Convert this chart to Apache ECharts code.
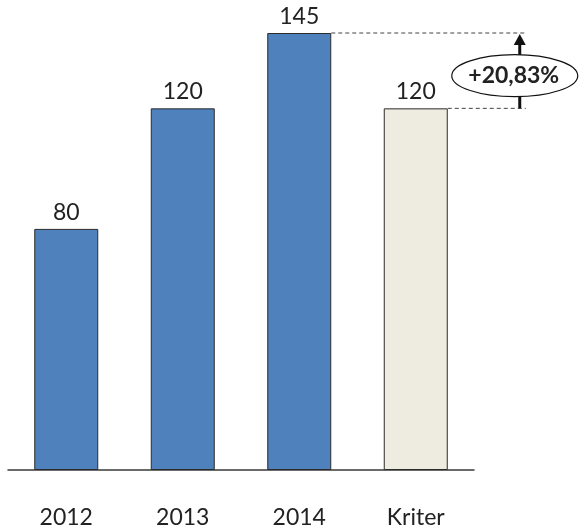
<!DOCTYPE html>
<html>
<head>
<meta charset="utf-8">
<script src="https://cdn.jsdelivr.net/npm/echarts@6/dist/echarts.min.js"></script>
<style>
body{ margin:0; background:#fff; }
#main{ width:580px; height:530px; }
</style>
</head>
<body>
<div id="main"></div>
<script type="text/javascript">
var categories = ['2012', '2013', '2014', 'Kriter'];
var values = [80, 120, 145, 120];
var barColors = ['#4F81BD', '#4F81BD', '#4F81BD', '#EEECE1'];
var changeLabel = '+20,83%';

var chart = echarts.init(document.getElementById('main'));
chart.setOption({
    animation: false,
    textStyle: { fontFamily: 'Lato' },
    grid: { left: 8, right: 106, top: 33, bottom: 60 },
    xAxis: {
        type: 'category',
        data: categories,
        axisLine: { lineStyle: { color: '#3a3a3a', width: 1.5 } },
        axisTick: { show: false },
        axisLabel: { color: '#222', fontSize: 23, margin: 36 }
    },
    yAxis: {
        type: 'value',
        min: 0,
        max: 145,
        show: false,
        splitLine: { show: false }
    },
    series: [{
        type: 'bar',
        barWidth: 64,
        data: values.map(function (v, i) {
            return { value: v, itemStyle: { color: barColors[i] } };
        }),
        itemStyle: { borderColor: '#2b2b2b', borderWidth: 1 },
        label: { show: true, position: 'top', distance: 5, color: '#222', fontSize: 23 }
    }]
});

// annotation: dashed guides, arrow and ellipse, positioned from the axes
function drawNote() {
    var top = chart.convertToPixel({ seriesIndex: 0 }, [2, values[2]]);
    var ref = chart.convertToPixel({ seriesIndex: 0 }, [3, values[3]]);
    var half = 32;
    var ax = ref[0] + 104;
    var endX = ax + 6;
    var midY = (top[1] + ref[1]) / 2;
    chart.setOption({
        graphic: [
            { type: 'line', shape: { x1: top[0] + half, y1: top[1], x2: endX, y2: top[1] },
              style: { stroke: '#444', lineWidth: 1, lineDash: [4, 3] } },
            { type: 'line', shape: { x1: ref[0] + half, y1: ref[1], x2: endX, y2: ref[1] },
              style: { stroke: '#444', lineWidth: 1, lineDash: [4, 3] } },
            { type: 'line', shape: { x1: ax, y1: ref[1], x2: ax, y2: top[1] + 8 },
              style: { stroke: '#111', lineWidth: 3 } },
            { type: 'polygon', shape: { points: [[ax - 6, top[1] + 12], [ax + 6, top[1] + 12], [ax, top[1] + 1]] },
              style: { fill: '#111' } },
            { type: 'ellipse', shape: { cx: ax - 5, cy: midY + 5, rx: 63, ry: 21 },
              style: { fill: '#fff', stroke: '#111', lineWidth: 1.2 } },
            { type: 'text', x: ax - 6, y: midY + 5,
              style: { text: changeLabel, font: 'bold 23px Lato', fill: '#222', align: 'center', verticalAlign: 'middle' } }
        ]
    });
}
drawNote();
</script>
</body>
</html>
